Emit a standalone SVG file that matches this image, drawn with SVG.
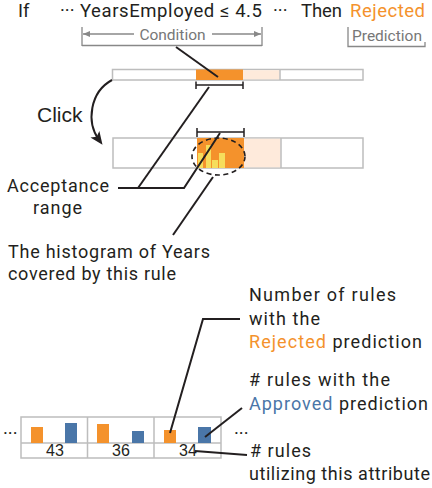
<svg xmlns="http://www.w3.org/2000/svg" width="432" height="488" viewBox="0 0 432 488">
<style>
text{font-family:Roboto,"Liberation Sans",sans-serif;fill:#231f20}
.t{font-size:18.5px}
.a{font-size:18px}
.g{fill:#777;font-size:15.5px}
.or{fill:#f4922c}
.bl{fill:#4a76a8}
.ln{stroke:#231f20;stroke-width:2;fill:none}
.gl{stroke:#888;stroke-width:1.3;fill:none}
.bx{stroke:#bdbdbd;stroke-width:1.5}
.num{font-family:"Liberation Sans",Arial,sans-serif;font-size:16px;text-anchor:middle}
</style>
<defs>
<marker id="ga" markerWidth="8" markerHeight="8" refX="7" refY="4" orient="auto" markerUnits="userSpaceOnUse">
<path d="M0,1 L7,4 L0,7 Z" fill="#888"/>
</marker>
<marker id="ka" markerWidth="14" markerHeight="14" refX="7" refY="7" orient="auto" markerUnits="userSpaceOnUse">
<path d="M0,1.5 L13,7 L0,12.5 L3,7 Z" fill="#231f20"/>
</marker>
</defs>

<g id="rule-header">
<text class="t" x="18" y="17">If</text>
<text class="t" x="60" y="17">···</text>
<text class="t" x="80" y="17" textLength="182" lengthAdjust="spacing">YearsEmployed ≤ 4.5</text>
<text class="t" x="273" y="17">···</text>
<text class="t" x="301" y="17" textLength="41" lengthAdjust="spacing">Then</text>
<text class="t or" x="350" y="17" textLength="75" lengthAdjust="spacing">Rejected</text>
</g>

<g id="condition-label">
<path class="gl" d="M82,27 V46 M262,27 V46 M82,45.5 H262"/>
<path class="gl" d="M134,34 H83" marker-end="url(#ga)"/>
<path class="gl" d="M212,34 H261" marker-end="url(#ga)"/>
<text class="g" x="172.5" y="39.5" text-anchor="middle">Condition</text>
</g>

<g id="prediction-label">
<path class="gl" d="M348,27 V46.5 H425 V42"/>
<text class="g" x="387" y="40.5" text-anchor="middle">Prediction</text>
</g>

<g id="bar-collapsed">
<rect x="112.5" y="69.5" width="250.5" height="10.5" fill="#fff" class="bx"/>
<rect x="196" y="69.5" width="47" height="10.5" fill="#f4922c"/>
<rect x="243" y="70.2" width="36.5" height="9.1" fill="#feeadb"/>
<path class="bx" d="M280,69.5 V80"/>
<path class="ln" d="M196,85 H243 M196,81.5 V89 M243,81.5 V89" style="stroke-width:1.5"/>
</g>

<g id="bar-expanded">
<rect x="113" y="138" width="250" height="30" fill="#fff" class="bx"/>
<rect x="197" y="138" width="47" height="30" fill="#f4922c"/>
<rect x="244" y="138.7" width="36.5" height="28.6" fill="#feeadb"/>
<path class="bx" d="M281,138 V168"/>
<rect x="198" y="153" width="5" height="15" fill="#f6dd5c"/>
<rect x="206" y="145" width="5" height="23" fill="#f6dd5c"/>
<rect x="212" y="160" width="6" height="8" fill="#f6dd5c"/>
<rect x="219" y="153" width="6" height="15" fill="#f6dd5c"/>
<path class="ln" d="M197,132 H244 M197,128 V137 M244,128 V137" style="stroke-width:1.5"/>
<ellipse cx="218.5" cy="156.5" rx="26.5" ry="18.5" fill="none" stroke="#231f20" stroke-width="1.6" stroke-dasharray="5,3.5"/>
</g>

<g id="click-label">
<text x="37" y="122" style="font-family:'Liberation Sans',Arial,sans-serif;font-size:21px">Click</text>
</g>

<g id="acceptance-label">
<text class="a" x="7" y="192" textLength="102" lengthAdjust="spacing">Acceptance</text>
<text class="a" x="33" y="214" textLength="49" lengthAdjust="spacing">range</text>
</g>

<g id="histogram-label">
<text class="a" x="8" y="258" textLength="202" lengthAdjust="spacing">The histogram of Years</text>
<text class="a" x="8" y="280" textLength="168" lengthAdjust="spacing">covered by this rule</text>
</g>

<g id="rejected-count-label">
<text class="a" x="249" y="301" textLength="147" lengthAdjust="spacing">Number of rules</text>
<text class="a" x="249" y="325" textLength="71" lengthAdjust="spacing">with the</text>
<text class="a" x="249" y="348" textLength="173" lengthAdjust="spacing"><tspan class="or">Rejected</tspan> prediction</text>
</g>

<g id="approved-count-label">
<text class="a" x="249" y="386" textLength="141" lengthAdjust="spacing"># rules with the</text>
<text class="a" x="249" y="410" textLength="179" lengthAdjust="spacing"><tspan class="bl">Approved</tspan> prediction</text>
</g>

<g id="rules-count-label">
<text class="a" x="250" y="457" textLength="61" lengthAdjust="spacing"># rules</text>
<text class="a" x="249" y="480" textLength="181" lengthAdjust="spacing">utilizing this attribute</text>
</g>

<g id="attribute-table">
<rect x="21" y="417" width="200" height="41" class="bx" style="fill:none"/>
<path class="bx" d="M21,443 H221 M87.5,417 V458 M154,417 V458" fill="none"/>
<rect x="31" y="427" width="12" height="16" fill="#f4922c"/>
<rect x="65" y="423" width="12" height="20" fill="#4a76a8"/>
<rect x="97" y="424" width="12" height="19" fill="#f4922c"/>
<rect x="132" y="431" width="12" height="12" fill="#4a76a8"/>
<rect x="164" y="430" width="12" height="13" fill="#f4922c"/>
<rect x="198" y="427" width="13" height="16" fill="#4a76a8"/>
<text class="num" x="55" y="456">43</text>
<text class="num" x="121" y="456">36</text>
<text class="num" x="188" y="456">34</text>
<text class="t" x="3" y="440">···</text>
<text class="t" x="234" y="440">···</text>
</g>

<g id="connectors">
<path class="ln" d="M176,47 L218,77"/>
<path class="ln" d="M209,87 L138,188"/>
<path class="ln" d="M118,188 H184 L220,133"/>
<path class="ln" d="M213,177 L173,235"/>
<path class="ln" d="M112,80 C90,92 86,122 99,140" marker-end="url(#ka)"/>
<path class="ln" d="M240,319 H203 L170,433"/>
<path class="ln" d="M242,408 L205,437"/>
<path class="ln" d="M195,451 L247,455"/>
</g>
</svg>
